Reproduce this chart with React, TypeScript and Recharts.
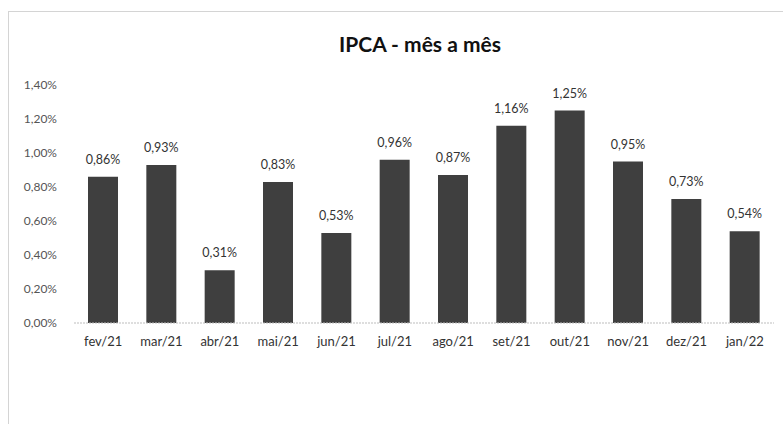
import React from "react";
import { BarChart, Bar, XAxis, YAxis, LabelList } from "recharts";

const months = ["fev/21", "mar/21", "abr/21", "mai/21", "jun/21", "jul/21", "ago/21", "set/21", "out/21", "nov/21", "dez/21", "jan/22"];
const ipca = [0.86, 0.93, 0.31, 0.83, 0.53, 0.96, 0.87, 1.16, 1.25, 0.95, 0.73, 0.54];
const yTicks = [0, 0.2, 0.4, 0.6, 0.8, 1.0, 1.2, 1.4];

const data = months.map((m, i) => ({ month: m, value: ipca[i] }));
const fmt = (v: number) => v.toFixed(2).replace(".", ",") + "%";
const FONT = "Lato, 'Open Sans', sans-serif";

export default function App() {
  return (
    <div style={{ position: "absolute", left: 0, top: 0, width: 783, height: 424, background: "#fff", fontFamily: FONT }}>
      <div style={{ position: "absolute", left: 8, top: 11, right: 0, bottom: 0, borderTop: "1px solid #d4d4d4", borderLeft: "1px solid #d4d4d4" }} />
      <div style={{ position: "absolute", left: 0, width: 840, top: 31, textAlign: "center", fontSize: 21, fontWeight: 700, color: "#111" }}>
        IPCA - mês a mês
      </div>
      <BarChart width={783} height={424} data={data} margin={{ top: 85, right: 9, left: 14, bottom: 71 }} barSize={30}>
        <YAxis
          width={60}
          domain={[0, 1.4]}
          ticks={yTicks}
          tickFormatter={fmt}
          axisLine={false}
          tickLine={false}
          tickSize={0}
          tickMargin={17}
          tick={{ fill: "#555", fontSize: 12, fontFamily: FONT }}
        />
        <XAxis
          dataKey="month"
          interval={0}
          tickLine={false}
          axisLine={{ stroke: "#bdbdbd", strokeDasharray: "2 1" }}
          tickSize={0}
          tickMargin={14}
          tick={{ fill: "#333", fontSize: 13, fontFamily: FONT }}
        />
        <Bar dataKey="value" fill="#3f3f3f" isAnimationActive={false}>
          <LabelList dataKey="value" position="top" offset={13} formatter={(v: number) => fmt(v)} style={{ fill: "#333", fontSize: 12.5, fontFamily: FONT }} />
        </Bar>
      </BarChart>
    </div>
  );
}
